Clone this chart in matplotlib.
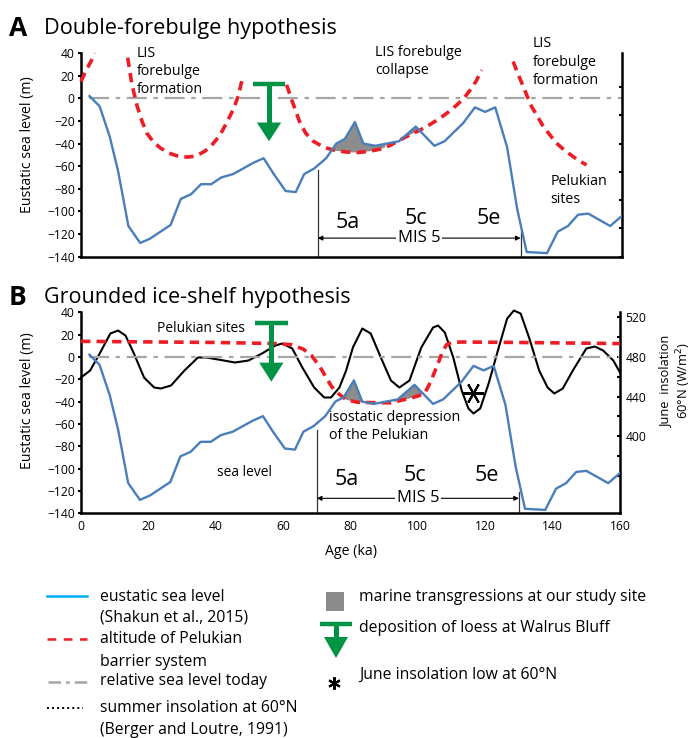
import numpy as np
import matplotlib
matplotlib.use("Agg")
import matplotlib.pyplot as plt
from matplotlib.patches import Polygon, Rectangle

plt.rcParams['font.family'] = ['Open Sans', 'DejaVu Sans']

# eustatic sea level (Shakun et al., 2015)
sl_age = [2.5, 5.5, 8.5, 11, 14, 17.5, 20.5, 23.5, 26.5, 29.5, 32.5, 35.5, 38.5,
          41.5, 45, 48, 51, 54, 57, 60.5, 63.5, 66, 69, 72.5, 75.5, 78, 81, 83.5,
          87, 94, 99, 104.5, 107.5, 113, 116.5, 119.5, 122.5, 126, 129, 131.8,
          137.8, 141, 144, 147, 150, 156.5, 160]
sl_val = [2, -7, -34, -65, -113, -128, -124, -118, -112, -89, -85, -76, -76,
          -70, -67, -62, -57, -53, -67, -82, -83, -67, -62, -53, -40, -36, -21, -40,
          -42, -38, -25, -42, -38, -22, -8, -12, -8, -43, -98, -136,
          -137, -118, -113, -103, -102, -113, -104]

# panel A: altitude of Pelukian barrier, four separate pieces
redA = [
    ([0, 1.5, 3, 4], [15, 25, 33, 40]),
    ([13.8, 15, 16.5, 18, 19.5, 21.5, 23.5, 26, 29, 31.5, 34, 36.5, 38.5, 41, 43,
      45, 46.5, 47.6],
     [36, 13, -6, -20, -31, -39, -44, -48.5, -51.5, -52, -51, -47, -42, -33, -22,
      -10, 2, 16]),
    ([60.8, 62.5, 64.8, 66.5, 68.7, 72, 75.6, 78.5, 81.6, 85, 88.5, 91.5, 94.4,
      97.5, 100.3, 103.3, 106.2, 108.7, 111.1, 113.2, 115, 116.8, 118.5],
     [12, -3, -22, -31, -38, -43.5, -46.5, -47.5, -48, -47, -45, -41.5, -36.7,
      -32, -28, -23, -17.5, -12, -6, 0, 7, 15, 25]),
    ([127.8, 129.3, 130.8, 132, 133.2, 135, 136.7, 138.7, 140.6, 143, 145.5,
      147.5, 149.5],
     [32.6, 21, 10.5, 1.5, -7, -16, -25, -32.5, -39.6, -46, -51.5, -55.5, -59]),
]

# panel B: altitude of Pelukian barrier
redB_age = [0, 20, 40, 58, 62.5, 66, 68.5, 70.9, 72.5, 74.4, 76.5, 78.8, 82, 87.7,
            92, 97.6, 100, 102, 103, 104, 105, 106, 107.2, 108.5, 110, 113, 130, 160]
redB_val = [14, 13.5, 13, 12, 11, 7, 1, -8.7, -17, -26.6, -33, -38.5, -40.5, -41,
            -41, -37, -35, -32.5, -27, -20.6, -13, -5.7, 4, 11, 13, 13.4, 13, 12]

# June insolation at 60N (Berger and Loutre, 1991), W/m2
ins_age = [0, 2.7, 5.7, 8.7, 11, 13.2, 15.7, 18.7, 21.7, 23.7, 26.7, 30.7, 34.7,
           37.2, 40.7, 45.7, 49.7, 53.7, 57.7, 59.7, 62.7, 65.7, 69.2, 72.2, 74.2,
           76.7, 78.7, 80.7, 83.5, 86, 89, 92, 94.5, 97.5, 101, 104.5, 106, 108,
           110.5, 113, 115, 116.5, 118.5, 121, 124, 126.5, 128.5, 130.5, 133, 136,
           138.5, 140.5, 143, 146, 150, 152.5, 155, 158, 160]
ins_val = [459, 466, 484, 503, 506, 501, 483, 459, 449, 448, 451, 466, 479,
           479, 477, 474, 476, 483, 491, 493, 488, 469, 449, 439, 439,
           449, 466, 489, 508, 503, 479, 456, 449, 456, 489, 509, 511, 504,
           479, 446, 428, 423, 428, 453, 489, 518, 526, 523, 499, 466,
           449, 443, 448, 466, 488, 490, 486, 476, 464]

# marine transgression windows (5a, 5c)
mt_windows = [(72, 90), (93, 102)]

# loess deposition arrows: age, bar level, head base, tip
loessA = (55.6, 12.9, -21.4, -38)
loessB = (56.5, 30.1, -5.1, -22.1)
insol_low = (116.5, -32.5)

blue = '#4a7ebb'
red = '#ee1c25'
grey = '#a6a6a6'
green = '#009245'
shade = '#8c8c8c'


def style_axes(ax):
    ax.set_xlim(0, 160)
    ax.set_ylim(-140, 40)
    ax.set_yticks(np.arange(-140, 41, 20))
    ax.spines['top'].set_visible(False)
    for s in ('left', 'bottom', 'right'):
        ax.spines[s].set_linewidth(1.8)
    ax.tick_params(axis='y', direction='out', length=2.5, width=1.5,
                   labelsize=8.7, pad=2)
    ax.set_ylabel('Eustatic sea level (m)', fontsize=10.2, labelpad=3)


def draw_common(ax, red_pieces, labels_y, mis_y, vline_tops):
    ax.axhline(0, xmin=0.015, color=grey, lw=1.6, dashes=(9, 3, 2, 3))
    fine = np.linspace(0, 160, 1601)
    bl = np.interp(fine, sl_age, sl_val)
    rd = np.full_like(fine, np.nan)
    for a, v in red_pieces:
        m = (fine >= a[0]) & (fine <= a[-1])
        rd[m] = np.interp(fine[m], a, v)
    win = np.zeros_like(fine, dtype=bool)
    for lo, hi in mt_windows:
        win |= (fine >= lo) & (fine <= hi)
    ok = win & ~np.isnan(rd) & (bl > rd)
    ax.fill_between(fine, rd, bl, where=ok, color=shade, lw=0, zorder=2)
    for a, v in red_pieces:
        ax.plot(a, v, color=red, lw=2.6, dashes=(2.6, 1.7), zorder=4,
                clip_on=False)
    ax.plot(sl_age, sl_val, color=blue, lw=1.7, zorder=5)
    ax.plot([70, 70], [vline_tops[0], -140], color='#333333', lw=0.9)
    ax.plot([130, 130], [vline_tops[1], -140], color='#333333', lw=0.9)
    ax.annotate('', xy=(70, mis_y), xytext=(130, mis_y),
                arrowprops=dict(arrowstyle='<|-|>', color='black', lw=0.8,
                                mutation_scale=7, shrinkA=0, shrinkB=0))
    ax.text(100, mis_y, 'MIS 5', ha='center', va='center', fontsize=12,
            bbox=dict(facecolor='white', edgecolor='none', pad=1.5))
    for t, x in zip(['5a', '5c', '5e'], [79, 99, 120.5]):
        ax.text(x, labels_y[t], t, ha='center', va='center', fontsize=15.5)


def draw_loess(ax, spec):
    x, top, base, tip = spec
    ax.plot([x - 4.8, x + 4.8], [top, top], color=green, lw=3.2,
            solid_capstyle='butt', zorder=6)
    ax.plot([x, x], [top, base], color=green, lw=3.6, solid_capstyle='butt',
            zorder=6)
    ax.add_patch(Polygon([(x - 3.6, base), (x + 3.6, base), (x, tip)],
                         closed=True, color=green, lw=0, zorder=6))


fig = plt.figure(figsize=(6.95, 7.38), dpi=100)
axA = fig.add_axes([0.1166, 0.6524, 0.7784, 0.2756])
axB = fig.add_axes([0.1166, 0.3045, 0.7755, 0.2723])

ann = 10.3

# ---- panel A
style_axes(axA)
axA.set_xticks([])
axA.yaxis.set_label_coords(-0.085, 0.55)
draw_common(axA, redA, {'5a': -110, '5c': -106, '5e': -106}, -123.7,
            (-63, -117))
draw_loess(axA, loessA)
axA2 = axA.twinx()
axA2.set_ylim(-140, 40)
axA2.set_yticks([-140, -115, -90, -65, -40, -15, 10])
axA2.set_yticklabels([])
axA2.tick_params(direction='in', length=2.5, width=1.5)
for s in axA2.spines.values():
    s.set_visible(False)

axA.text(16.5, 23.8, 'LIS\nforebulge\nformation', fontsize=ann, va='center',
         ha='left', linespacing=1.3)
axA.text(87, 32.6, 'LIS forebulge\ncollapse', fontsize=ann, va='center',
         ha='left', linespacing=1.3)
axA.text(133.7, 32, 'LIS\nforebulge\nformation', fontsize=ann, va='center',
         ha='left', linespacing=1.3)
axA.text(138.8, -81.7, 'Pelukian\nsites', fontsize=ann, va='center',
         ha='left', linespacing=1.3)

fig.text(0.013, 0.962, 'A', fontsize=19, fontweight='bold', va='center')
fig.text(0.063, 0.962, 'Double-forebulge hypothesis', fontsize=15.6,
         va='center')

# ---- panel B
style_axes(axB)
axB.set_xticks(np.arange(0, 161, 20))
axB.tick_params(axis='x', length=0, labelsize=8.7, pad=5)
axB.set_xlabel('Age (ka)', fontsize=10.2, labelpad=8)
axB.yaxis.set_label_coords(-0.085, 0.56)
draw_common(axB, [(redB_age, redB_val)], {'5a': -110, '5c': -106, '5e': -106},
            -126.6, (-65, -120.6))
draw_loess(axB, loessB)
axB.plot(*insol_low, marker=(6, 2, 90), ms=15, mew=1.5, color='black',
         zorder=7)

axB2 = axB.twinx()
axB2.set_ylim(323.2, 524.2)
axB2.plot(ins_age, ins_val, color='black', lw=1.5, zorder=3, clip_on=False)
axB2.set_yticks([400, 440, 480, 520])
axB2.set_yticks([360, 380, 420, 460, 500], minor=True)
axB2.tick_params(which='both', direction='in', length=2.5, width=1.5,
                 labelsize=8.7, pad=4)
for s in axB2.spines.values():
    s.set_visible(False)
axB2.set_ylabel('June  insolation\n60\u00b0N (W/m$^2$)', fontsize=9.3,
                linespacing=1.15)
axB2.yaxis.label.set_va('center')
axB2.yaxis.set_label_coords(1.104, 0.66)
axB.set_zorder(axB2.get_zorder() + 1)
axB.patch.set_visible(False)

axB.text(35.5, 25.7, 'Pelukian sites', fontsize=9.9, ha='center', va='center')
axB.text(73.6, -62, 'isostatic depression\nof the Pelukian', fontsize=10.3,
         ha='left', va='center', linespacing=1.3)
axB.text(48.4, -103.6, 'sea level', fontsize=9.9, ha='center', va='center')

fig.text(0.013, 0.597, 'B', fontsize=19, fontweight='bold', va='center')
fig.text(0.063, 0.597, 'Grounded ice-shelf hypothesis', fontsize=15.5,
         va='center')

# ---- legend (pixel coordinates on an overlay)
leg = fig.add_axes([0, 0, 1, 1])
leg.set_xlim(0, 695)
leg.set_ylim(738, 0)
leg.axis('off')
leg.plot([47, 87], [596, 596], color='#00aeef', lw=1.8)
leg.plot([47, 87], [639, 639], color=red, lw=1.8, dashes=(3.5, 3))
leg.plot([48, 87], [682, 682], color=grey, lw=1.8, dashes=(5, 2, 1.5, 2))
leg.plot([47, 83], [708, 708], color='black', lw=1.4, dashes=(1, 1.6))
left_txt = [('eustatic sea level', 597), ('(Shakun et al., 2015)', 618),
            ('altitude of Pelukian', 639), ('barrier system', 661.5),
            ('relative sea level today', 681), ('summer insolation at 60\u00b0N', 708),
            ('(Berger and Loutre, 1991)', 730)]
for t, y in left_txt:
    leg.text(100, y, t, fontsize=11.3, va='center', ha='left')

leg.add_patch(Rectangle((326, 592), 18, 19, color=shade, lw=0))
leg.plot([320, 352], [624, 624], color=green, lw=3.2, solid_capstyle='butt')
leg.plot([336, 336], [624, 637], color=green, lw=3.6, solid_capstyle='butt')
leg.add_patch(Polygon([(324, 637), (348, 637), (336, 658)], closed=True,
                      color=green, lw=0))
leg.plot(334, 683, marker=(6, 2, 0), ms=9, mew=1.5, color='black')
right_txt = [('marine transgressions at our study site', 597),
             ('deposition of loess at Walrus Bluff', 628),
             ('June insolation low at 60\u00b0N', 675)]
for t, y in right_txt:
    leg.text(359, y, t, fontsize=11.3, va='center', ha='left')

fig.savefig('out.png', dpi=100)
